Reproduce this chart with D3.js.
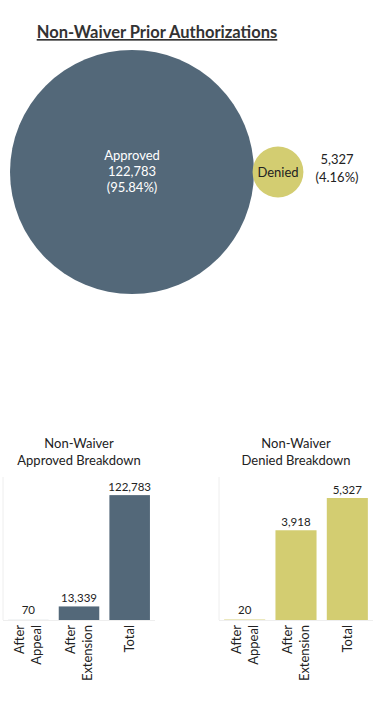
<!DOCTYPE html>
<html><head><meta charset="utf-8">
<script src="https://cdn.jsdelivr.net/npm/d3@7"></script>
<style>body{margin:0;background:#fff}svg{display:block}text{font-family:Lato,"Open Sans",sans-serif}</style>
</head><body>
<script>
const overallCats = ["Approved","Denied"];
const overallVals = [122783, 5327];
const overallPcts = ["95.84%","4.16%"];
const breakdownCats = [["After","Appeal"],["After","Extension"],["Total"]];
const approvedVals = [70, 13339, 122783];
const deniedVals = [20, 3918, 5327];
const colors = {Approved:"#536879", Denied:"#d3cd71"};

const W=380,H=703;
const svg=d3.select("body").append("svg").attr("width",W).attr("height",H);
const fmt=d3.format(",");

// Title
svg.append("text").attr("x",157).attr("y",38).attr("text-anchor","middle")
  .attr("font-size",16.5).attr("font-weight","bold").attr("fill","#333")
  .attr("text-decoration","underline").text("Non-Waiver Prior Authorizations");

// Bubbles
const r=d3.scaleSqrt().domain([0,d3.max(overallVals)]).range([0,122]);
const cx=[132,278], cy=172;
overallCats.forEach((c,i)=>{
  svg.append("circle").attr("cx",cx[i]).attr("cy",cy).attr("r",r(overallVals[i])).attr("fill",colors[c]);
});
const a=svg.append("text").attr("x",cx[0]).attr("text-anchor","middle").attr("fill","#fff").attr("font-size",13);
a.append("tspan").attr("x",cx[0]).attr("y",160).text(overallCats[0]);
a.append("tspan").attr("x",cx[0]).attr("y",176).text(fmt(overallVals[0]));
a.append("tspan").attr("x",cx[0]).attr("y",192).text("("+overallPcts[0]+")");
svg.append("text").attr("x",cx[1]).attr("y",176.5).attr("text-anchor","middle").attr("font-size",13).attr("fill","#222").text(overallCats[1]);
const d=svg.append("text").attr("text-anchor","middle").attr("font-size",13).attr("fill","#222");
d.append("tspan").attr("x",337).attr("y",164).text(fmt(overallVals[1]));
d.append("tspan").attr("x",337).attr("y",182).text("("+overallPcts[1]+")");

function bars(x0,x1,titleX,title2,vals,ymax,color){
  const g=svg.append("g");
  const top=477, base=620;
  const x=d3.scaleBand().domain(breakdownCats.map(c=>c.join(" "))).range([x0,x1]).paddingInner(0.2).paddingOuter(0.1);
  const y=d3.scaleLinear().domain([0,ymax]).range([base,top]);
  g.append("line").attr("x1",x0).attr("x2",x0).attr("y1",top).attr("y2",base).attr("stroke","#eee");
  g.append("line").attr("x1",x0).attr("x2",x1).attr("y1",base+0.5).attr("y2",base+0.5).attr("stroke","#eee");
  const t=g.append("text").attr("text-anchor","middle").attr("font-size",13).attr("fill","#222");
  t.append("tspan").attr("x",titleX).attr("y",448).text("Non-Waiver");
  t.append("tspan").attr("x",titleX).attr("y",465).text(title2);
  breakdownCats.forEach((c,i)=>{
    const k=c.join(" ");
    const h=base-y(vals[i]);
    g.append("rect").attr("x",x(k)).attr("width",x.bandwidth()).attr("y",base-h).attr("height",h).attr("fill",color);
    g.append("text").attr("x",x(k)+x.bandwidth()/2).attr("y",base-Math.max(h,2)-4).attr("text-anchor","middle")
      .attr("font-size",11.5).attr("fill","#222").text(fmt(vals[i]));
    const cxk=x(k)+x.bandwidth()/2;
    const n=c.length;
    c.forEach((w,j)=>{
      const lx=cxk+(j-(n-1)/2)*17+4.5;
      g.append("text").attr("transform",`translate(${lx},${base+5}) rotate(-90)`).attr("text-anchor","end")
        .attr("font-size",13).attr("fill","#222").text(w);
    });
  });
}
bars(3,155,79,"Approved Breakdown",approvedVals,140600,colors.Approved);
bars(219,373,296,"Denied Breakdown",deniedVals,6244,colors.Denied);
</script>
</body></html>
